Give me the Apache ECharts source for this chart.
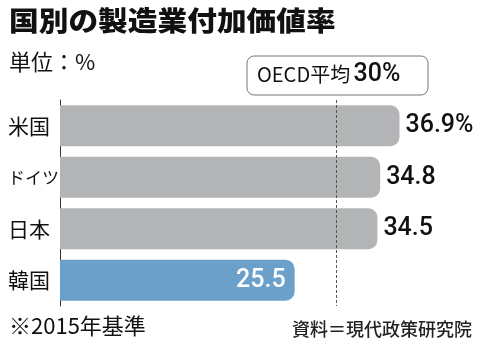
<!DOCTYPE html>
<html><head><meta charset="utf-8">
<script src="https://cdn.jsdelivr.net/npm/echarts@6/dist/echarts.min.js"></script>
<style>html,body{margin:0;padding:0;background:#fff}#c{width:480px;height:363px}</style>
</head><body><div id="c"></div>
<script>
const categories = ['米国', 'ドイツ', '日本', '韓国'];
const values = [36.9, 34.8, 34.5, 25.5];
const valueLabels = ['36.9%', '34.8', '34.5', '25.5'];
const highlight = [false, false, false, true];
const oecdAverage = 30;
const oecdText = 'OECD平均';
const oecdValueText = '30%';
const titleText = '国別の製造業付加価値率';
const unitText = '単位：%';
const noteText = '※2015年基準';
const sourceText = '資料＝現代政策研究院';

const JP = '"Noto Sans CJK JP", sans-serif';
const NUM = 'Roboto, "DejaVu Sans Condensed", sans-serif';
const chart = echarts.init(document.getElementById('c'), null, {renderer: 'canvas'});
chart.setOption({
  animation: false,
  backgroundColor: '#fff',
  grid: {left: 60, right: 52, top: 100, height: 206, containLabel: false, outerBoundsMode: 'none'},
  xAxis: {type: 'value', min: 0, max: 40, show: false},
  yAxis: {
    type: 'category', inverse: true,
    data: categories.map(c => c.length > 2
      ? {value: c, textStyle: {fontSize: 17, align: 'left', color: '#111', fontFamily: JP}} : c),
    axisLine: {show: true, lineStyle: {color: '#333', width: 1}},
    axisTick: {show: false},
    axisLabel: {align: 'left', margin: 52, color: '#111', fontSize: 21, fontFamily: JP}
  },
  series: [{
    type: 'bar', barWidth: 41,
    data: values.map((v, i) => ({
      value: v,
      itemStyle: {color: highlight[i] ? '#6aa0c9' : '#b3b4b6', borderRadius: [0, 9, 9, 0]},
      label: highlight[i]
        ? {show: true, position: 'insideRight', distance: 9, color: '#fff', formatter: valueLabels[i]}
        : {show: true, position: 'right', distance: 6, color: '#111', formatter: valueLabels[i]}
    })),
    label: {fontSize: 25, fontWeight: 500, fontFamily: NUM},
    markLine: {
      silent: true, symbol: 'none',
      lineStyle: {color: '#555', type: [3, 2], width: 1},
      label: {show: false},
      data: [{xAxis: oecdAverage}]
    }
  }],
  graphic: [
    {type: 'text', left: 9, top: 7, scaleX: 1.1, style: {text: titleText, fontSize: 27, fontWeight: 900, fontFamily: JP, fill: '#111'}},
    {type: 'text', left: 9, top: 51, style: {text: unitText, fontSize: 22, fontFamily: JP, fill: '#111'}},
    {type: 'rect', shape: {x: 247, y: 56, width: 181, height: 39, r: 7}, style: {fill: '#fff', stroke: '#777', lineWidth: 1}},
    {type: 'text', left: 257, top: 62, style: {
      text: '{a|' + oecdText + '} {b|' + oecdValueText + '}',
      rich: {a: {fontSize: 20, fontFamily: JP, fill: '#111'}, b: {fontSize: 25, fontFamily: NUM, fontWeight: 500, fill: '#111'}}
    }},
    {type: 'text', left: 9, top: 315, style: {text: noteText, fontSize: 22, fontFamily: JP, fill: '#111'}},
    {type: 'text', right: 8, top: 320, style: {text: sourceText, fontSize: 18, fontFamily: JP, fontWeight: 500, fill: '#222'}}
  ]
});
</script></body></html>
